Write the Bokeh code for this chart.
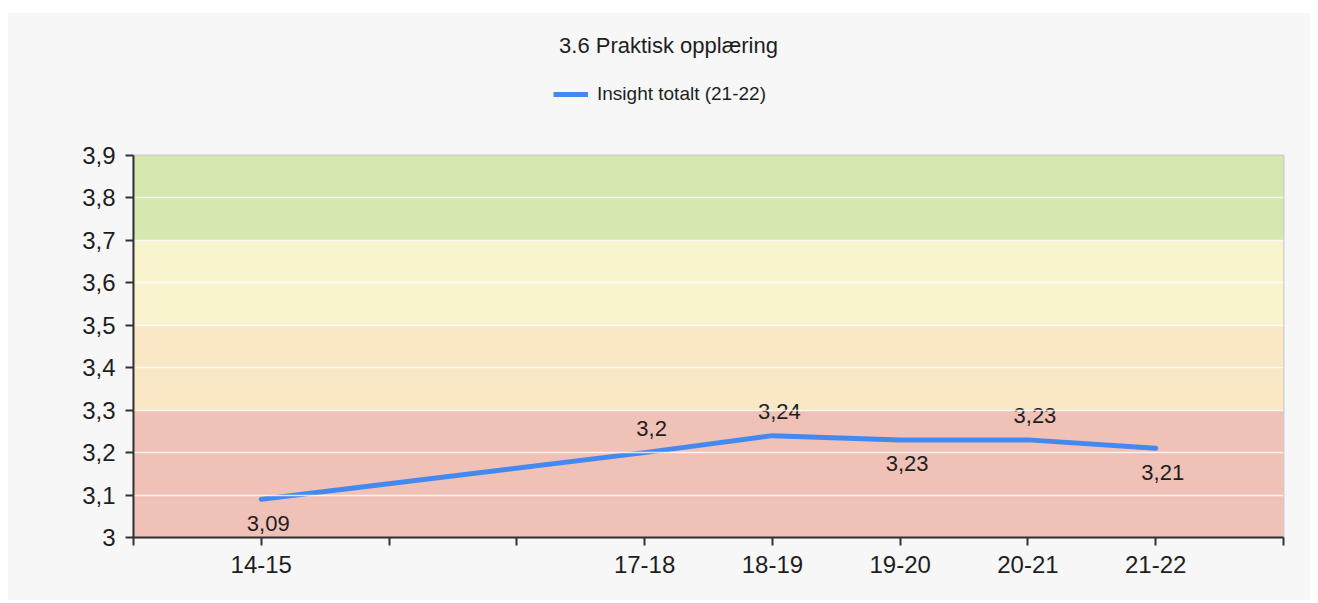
from bokeh.plotting import figure
from bokeh.models import (ColumnDataSource, FixedTicker, Legend, LegendItem, Label)
from bokeh.core.properties import value
from bokeh.layouts import column
from bokeh.embed import file_html
from bokeh.resources import INLINE

# ---- data ----
title_text = "3.6 Praktisk opplæring"
series_name = "Insight totalt (21-22)"
seasons = ["14-15", "15-16", "16-17", "17-18", "18-19", "19-20", "20-21", "21-22"]
data_seasons = ["14-15", "17-18", "18-19", "19-20", "20-21", "21-22"]
values = [3.09, 3.20, 3.24, 3.23, 3.23, 3.21]
label_side = ["below", "above", "above", "below", "above", "below"]
y_ticks = [3.0, 3.1, 3.2, 3.3, 3.4, 3.5, 3.6, 3.7, 3.8, 3.9]
y_tick_labels = ["3", "3,1", "3,2", "3,3", "3,4", "3,5", "3,6", "3,7", "3,8", "3,9"]
band_bottoms = [3.0, 3.3, 3.5, 3.7]
band_tops = [3.3, 3.5, 3.7, 3.9]
band_colors = ["#efc1b7", "#f9e7c5", "#f8f4cd", "#d4e8b0"]

FONT = "Liberation Sans"
BG = "#f7f7f7"
LINE_COLOR = "#4489ef"
TEXT_COLOR = "#1e1e1e"

x_pos = [seasons.index(s) + 1 for s in data_seasons]
labels = [f"{v:g}".replace(".", ",") for v in values]
y_off = [24 if s == "below" else -24 for s in label_side]

W = 1302
TOP_H = 127
FRAME_L, FRAME_R = 125, 27   # header frame is aligned to the chart frame

# ---- header figure: title + legend ----
head = figure(width=W, height=TOP_H, x_range=(FRAME_L, W - FRAME_R), y_range=(0, TOP_H),
              output_backend="svg", toolbar_location=None,
              x_axis_type=None, y_axis_type=None,
              min_border_left=FRAME_L, min_border_right=FRAME_R,
              min_border_top=0, min_border_bottom=0)
head.background_fill_color = BG
head.border_fill_color = BG
head.outline_line_color = None
head.grid.visible = False
head.add_layout(Label(x=660, y=TOP_H - 32, text=title_text, text_align="center",
                      text_baseline="middle", text_font=FONT, text_font_size="22px",
                      text_color=TEXT_COLOR))
# legend proxy line kept outside the visible header range
swatch = head.line(x=[0, 1], y=[-50, -50], line_color=LINE_COLOR, line_width=5)
legend = Legend(items=[LegendItem(label=series_name, renderers=[swatch])],
                location=(545 - FRAME_L, TOP_H - 92), orientation="horizontal",
                margin=0, padding=0, border_line_color=None, background_fill_alpha=0,
                glyph_width=35, glyph_height=20, label_height=20, label_standoff=9,
                label_text_font=FONT, label_text_font_size="19px",
                label_text_color=TEXT_COLOR)
head.add_layout(legend, "center")

# ---- main chart ----
p = figure(width=W, height=587 - TOP_H, x_range=(0, len(seasons) + 1), y_range=(3.0, 3.9),
           output_backend="svg", toolbar_location=None,
           min_border_left=FRAME_L, min_border_right=FRAME_R, min_border_top=15, min_border_bottom=63)
p.background_fill_color = BG
p.border_fill_color = BG
p.outline_line_color = "#cccccc"
p.outline_line_width = 2

p.quad(left=0, right=len(seasons) + 1, bottom=band_bottoms, top=band_tops,
       fill_color=band_colors, line_color=None, level="image")

p.xgrid.visible = False
p.ygrid.ticker = FixedTicker(ticks=y_ticks)
p.ygrid.grid_line_color = "#ffffff"
p.ygrid.grid_line_alpha = 0.8
p.ygrid.grid_line_width = 1.5
p.ygrid.level = "glyph"

src = ColumnDataSource(dict(x=x_pos, y=values, text=labels, yo=y_off))
p.line("x", "y", source=src, line_color=LINE_COLOR, line_width=5,
       line_cap="round", line_join="round")
p.text("x", "y", text="text", source=src, x_offset=7, y_offset="yo",
       text_align="center", text_baseline="middle", text_font_size="22px",
       text_font=value(FONT), text_color=TEXT_COLOR)

for ax in (p.xaxis[0], p.yaxis[0]):
    ax.axis_line_color = "#333333"
    ax.axis_line_width = 2
    ax.major_tick_line_color = "#333333"
    ax.major_tick_line_width = 2
    ax.major_tick_out = 8
    ax.major_tick_in = 0
    ax.minor_tick_line_color = None
    ax.major_label_text_font = FONT
    ax.major_label_text_font_size = "24px"
    ax.major_label_text_color = TEXT_COLOR

p.yaxis.ticker = FixedTicker(ticks=y_ticks)
p.yaxis.major_label_overrides = {t: l for t, l in zip(y_ticks, y_tick_labels)}
p.yaxis.major_label_standoff = 10

x_ticks = list(range(0, len(seasons) + 2))
p.xaxis.ticker = FixedTicker(ticks=x_ticks)
p.xaxis.major_label_overrides = {t: "" for t in x_ticks} | {x: s for x, s in zip(x_pos, data_seasons)}
p.xaxis.major_label_standoff = 10

layout = column(head, p, spacing=0)
layout.margin = (13, 0, 0, 8)
layout.styles = {"background-color": BG}

open("out.html", "w").write(file_html(layout, INLINE))
